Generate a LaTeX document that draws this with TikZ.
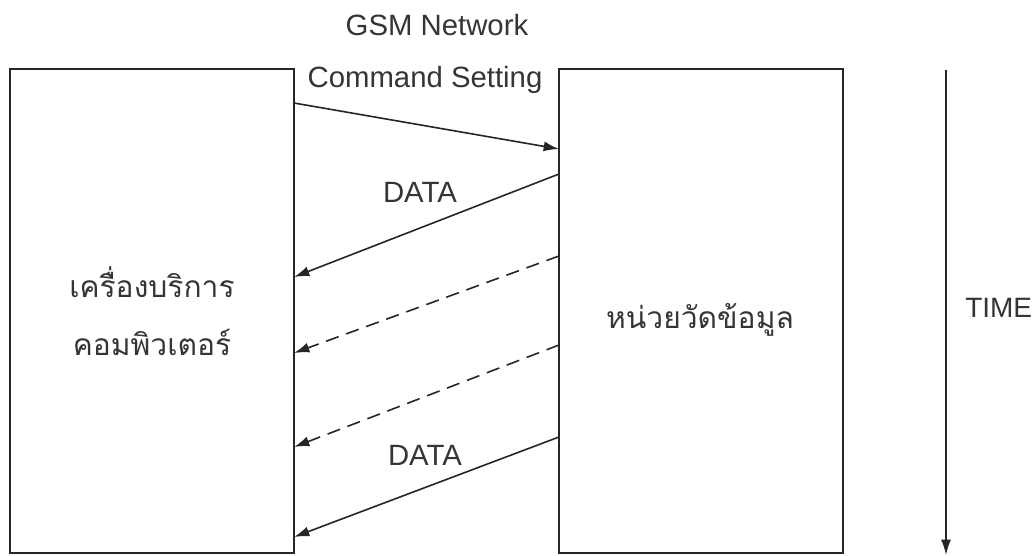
\documentclass[tikz,border=0pt]{standalone}
\usepackage{fontspec}
\setmainfont{Liberation Sans}
\newfontfamily\thaifont[Script=Thai]{Loma}
\usetikzlibrary{arrows.meta,calc}
\definecolor{ink}{HTML}{262626}
\definecolor{txt}{HTML}{353535}
\begin{document}
\begin{tikzpicture}[x=0.75pt,y=-0.75pt,
  box/.style={draw=ink,line width=1.2pt,inner sep=0pt,outer sep=0pt,
              minimum width=213pt,minimum height=363pt},
  lbl/.style={text=txt,font=\fontsize{22pt}{26pt}\selectfont,inner sep=0pt,anchor=base},
  thai/.style={text=txt,font=\thaifont\fontsize{22.5pt}{26pt}\selectfont,inner sep=0pt,anchor=base},
  msg/.style={draw=ink,line width=1.2pt,-{Latex[length=11.5pt,width=7.5pt]}},
  msgdash/.style={msg,dash pattern=on 10pt off 6pt}]
\useasboundingbox (0,0) rectangle (1035,556);
\fill[white] (0,0) rectangle (1035,556);

% the two parties
\node[box] (server) at (152,311) {};
\node[box] (meter)  at (701,311) {};

% box captions
\node[thai] (serverA) at (152,297) {เครื่องบริการ};
\node[thai] (serverB) at (152,355) {คอมพิวเตอร์};
\node[thai] (meterT)  at (700,328) {หน่วยวัดข้อมูล};

% headings above the message area
\node[lbl] (gsm) at (437,36) {GSM Network};
\node[lbl] (cmd) at (425,88) {Command Setting};

% message exchange
\draw[msg] ($(server.north east)+(0,34)$) -- ($(meter.north west)+(0,80)$);
\draw[msg] ($(meter.north west)+(0,105)$) -- ($(server.north east)+(0,208)$);
\draw[msgdash] ($(meter.north west)+(0,187)$) -- ($(server.north east)+(0,284)$);
\draw[msgdash] ($(meter.north west)+(0,276)$) -- ($(server.north east)+(0,378)$);
\draw[msg] ($(meter.north west)+(0,368)$) -- ($(server.north east)+(0,468)$);

\node[lbl] (data1) at (420,203) {DATA};
\node[lbl] (data2) at (425,465) {DATA};

% time axis
\coordinate (tstart) at (946,70);
\coordinate (tend) at (946,555);
\draw[msg] (tstart) -- (tend);
\node[lbl,anchor=base west,font=\fontsize{21pt}{26pt}\selectfont] (time) at (965,317) {TIME};
\end{tikzpicture}
\end{document}
